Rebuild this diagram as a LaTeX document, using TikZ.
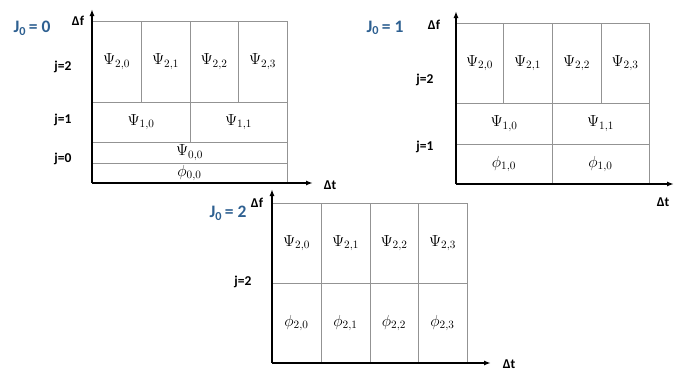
\RequirePackage{fix-cm}
\documentclass[tikz,border=0pt]{standalone}
\usepackage{fontspec}
\newfontfamily\lblfont{Carlito}
\usetikzlibrary{arrows.meta}
\definecolor{jblue}{RGB}{46,96,145}

\tikzstyle{cell}=[draw=gray!85,inner sep=0pt,outer sep=0pt,font=\fontsize{16}{18}\selectfont]
\tikzstyle{axis}=[draw,line width=1.6pt,-{Latex[length=7pt,width=5pt]}]
\tikzstyle{lbl}=[font=\lblfont\bfseries\fontsize{13.5}{15}\selectfont]
\tikzstyle{level}=[font=\lblfont\bfseries\fontsize{17.5}{20}\selectfont,text=jblue]

\begin{document}
\begin{tikzpicture}[x=1pt,y=-1pt]
\useasboundingbox (0,0) rectangle (678,372);
% J0 = 0
\foreach \name/\pos/\cw/\ch/\lab in {{p1a20/(116.5,61.5)/49/81/\Psi_{2,0}}, {p1a21/(165.5,61.5)/49/81/\Psi_{2,1}}, {p1a22/(214,61.5)/48/81/\Psi_{2,2}}, {p1a23/(262.5,61.5)/49/81/\Psi_{2,3}}, {p1a10/(141,122)/98/40/\Psi_{1,0}}, {p1a11/(238.5,122)/97/40/\Psi_{1,1}}, {p1a00/(189.5,152.5)/195/21/\Psi_{0,0}}, {p1s00/(189.5,173)/195/20/\phi_{0,0}}}
\node[cell,minimum width=\cw pt,minimum height=\ch pt] (\name) at \pos {$\lab$};
\coordinate (o1) at (92,183);
\coordinate (t1) at (313,183);
\coordinate (f1) at (92,9);
\draw[axis] (o1) -- (t1);
\draw[axis] (o1) -- (f1);
\node[level] (lev1) at (32,28) {J\textsubscript{0}\,= 0};
\node[lbl] (df1) at (78,21) {Δf};
\node[lbl] (dt1) at (330,185) {Δt};
\foreach \pos/\name/\lab in {{(63,67)/p1j2/j=2}, {(63,120)/p1j1/j=1}, {(63,159)/p1j0/j=0}}
\node[lbl] (\name) at \pos {\lab};

% J0 = 1
\foreach \name/\pos/\cw/\ch/\lab in {{p2a20/(479.5,63)/47/80/\Psi_{2,0}}, {p2a21/(527.5,63)/49/80/\Psi_{2,1}}, {p2a22/(576.5,63)/49/80/\Psi_{2,2}}, {p2a23/(625,63)/48/80/\Psi_{2,3}}, {p2a10/(504,123.5)/96/41/\Psi_{1,0}}, {p2a11/(600.5,123.5)/97/41/\Psi_{1,1}}, {p2s10/(504,164)/96/40/\phi_{1,0}}, {p2s11/(600.5,164)/97/40/\phi_{1,0}}}
\node[cell,minimum width=\cw pt,minimum height=\ch pt] (\name) at \pos {$\lab$};
\coordinate (o2) at (456,184);
\coordinate (t2) at (674,184);
\coordinate (f2) at (456,11);
\draw[axis] (o2) -- (t2);
\draw[axis] (o2) -- (f2);
\node[level] (lev2) at (385,28) {J\textsubscript{0}\,= 1};
\node[lbl] (df2) at (434,25) {Δf};
\node[lbl] (dt2) at (663,202) {Δt};
\foreach \pos/\name/\lab in {{(425,80)/p2j2/j=2}, {(425,147)/p2j1/j=1}}
\node[lbl] (\name) at \pos {\lab};

% J0 = 2
\foreach \name/\pos/\cw/\ch/\lab in {{p3a20/(296.5,243)/49/80/\Psi_{2,0}}, {p3a21/(345.5,243)/49/80/\Psi_{2,1}}, {p3a22/(394,243)/48/80/\Psi_{2,2}}, {p3a23/(442.5,243)/49/80/\Psi_{2,3}}, {p3s20/(296.5,323)/49/80/\phi_{2,0}}, {p3s21/(345.5,323)/49/80/\phi_{2,1}}, {p3s22/(394,323)/48/80/\phi_{2,2}}, {p3s23/(442.5,323)/49/80/\phi_{2,3}}}
\node[cell,minimum width=\cw pt,minimum height=\ch pt] (\name) at \pos {$\lab$};
\coordinate (o3) at (272,363);
\coordinate (t3) at (491,363);
\coordinate (f3) at (272,189);
\draw[axis] (o3) -- (t3);
\draw[axis] (o3) -- (f3);
\node[level] (lev3) at (228,213) {J\textsubscript{0}\,= 2};
\node[lbl] (df3) at (257,203) {Δf};
\node[lbl] (dt3) at (509,364) {Δt};
\node[lbl] (p3j2) at (243,282) {j=2};
\end{tikzpicture}
\end{document}
